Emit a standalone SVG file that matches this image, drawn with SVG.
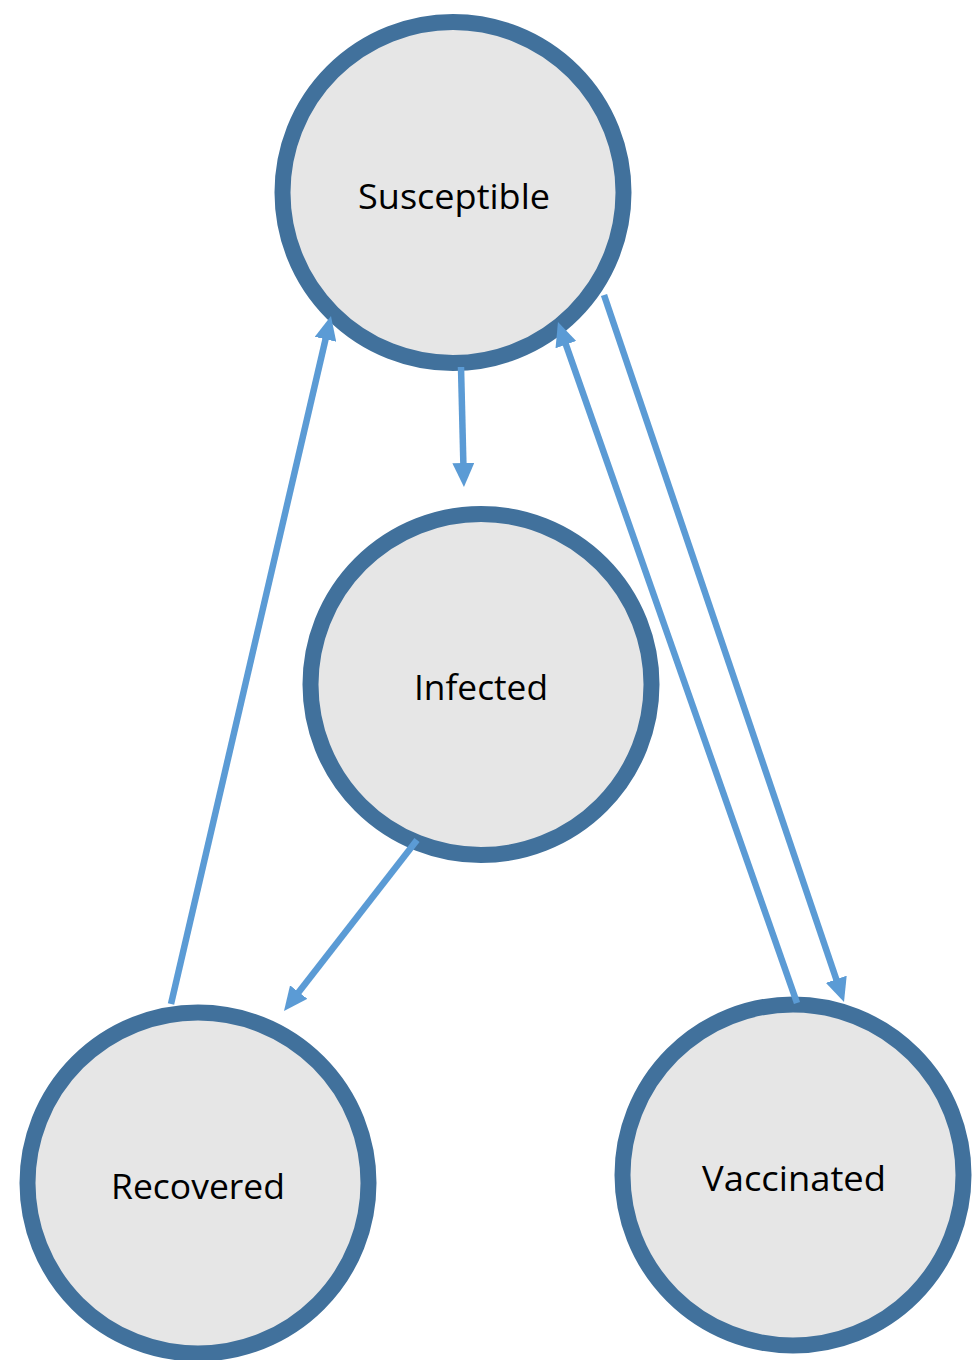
<svg xmlns="http://www.w3.org/2000/svg" width="976" height="1360" viewBox="0 0 976 1360">
<style>
.node circle{fill:#E6E6E6;stroke:#41719C;stroke-width:16}
.node text{font-family:"Open Sans","Liberation Sans",sans-serif;font-size:35px;fill:#000;text-anchor:middle}
.edge{stroke:#5B9BD5;stroke-width:6.5;fill:none;marker-end:url(#ah)}
</style>
<defs>
<marker id="ah" viewBox="0 0 24 22" markerWidth="24" markerHeight="22" refX="10" refY="11" markerUnits="userSpaceOnUse" orient="auto">
<path d="M0,0 L24,11 L0,22 z" fill="#5B9BD5"/>
</marker>
</defs>
<rect width="976" height="1360" fill="#fff"/>
<g id="susceptible" class="node"><circle cx="453" cy="192.5" r="170.5"/><text x="454" y="209" textLength="192" lengthAdjust="spacingAndGlyphs">Susceptible</text></g>
<g id="infected" class="node"><circle cx="481" cy="684.5" r="170.5"/><text x="481" y="700" textLength="134" lengthAdjust="spacingAndGlyphs">Infected</text></g>
<g id="recovered" class="node"><circle cx="198" cy="1183" r="170.5"/><text x="198" y="1199" textLength="174" lengthAdjust="spacingAndGlyphs">Recovered</text></g>
<g id="vaccinated" class="node"><circle cx="793" cy="1175" r="170.5"/><text x="794" y="1191" textLength="184" lengthAdjust="spacingAndGlyphs">Vaccinated</text></g>
<g id="connectors">
<line class="edge" x1="461" y1="367" x2="463.6" y2="473"/>
<line class="edge" x1="171" y1="1004" x2="327.8" y2="329.6"/>
<line class="edge" x1="797" y1="1003" x2="562.6" y2="335.2"/>
<line class="edge" x1="604" y1="295" x2="839.5" y2="988.7"/>
<line class="edge" x1="417" y1="840" x2="292.6" y2="1000"/>
</g>
</svg>
